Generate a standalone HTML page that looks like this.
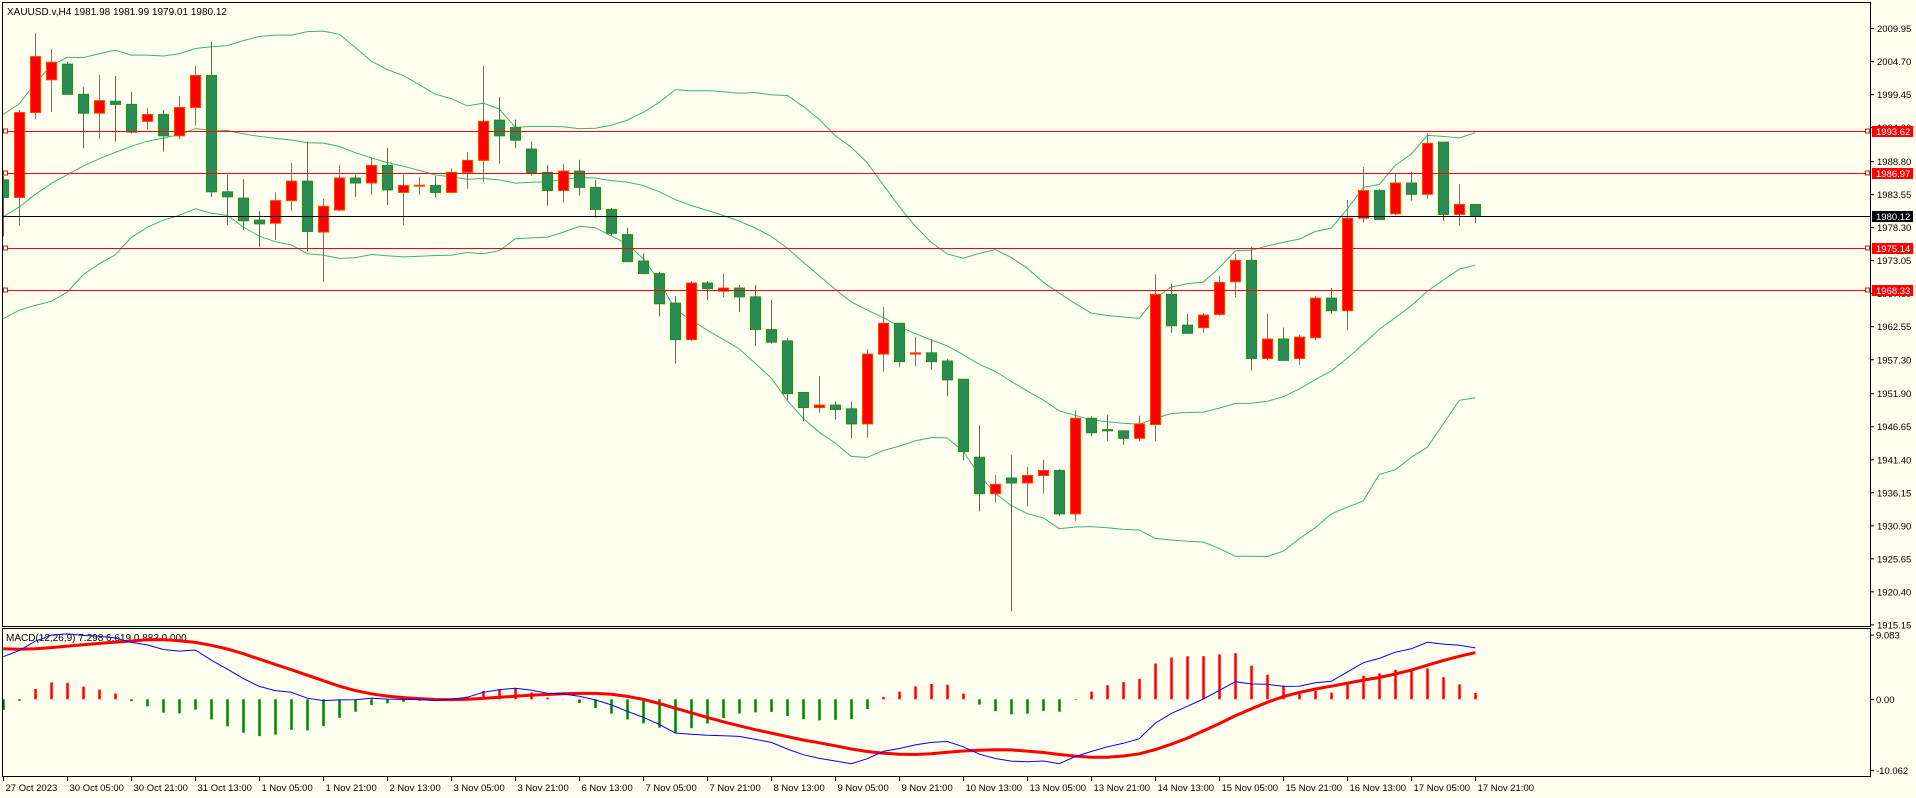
<!DOCTYPE html>
<html><head><meta charset="utf-8">
<style>
html,body{margin:0;padding:0;background:#FFFFF0;}
svg{display:block;font-family:"Liberation Sans",sans-serif;}
</style></head>
<body>
<svg id="chart" width="1916" height="798" viewBox="0 0 1916 798" xmlns="http://www.w3.org/2000/svg">
  <rect x="0" y="0" width="1916" height="798" fill="#FFFFF0"/>
  <defs>
    <clipPath id="mainClip"><rect x="3" y="3" width="1867" height="623"/></clipPath>
    <clipPath id="macdClip"><rect x="3" y="629" width="1867" height="147"/></clipPath>
  </defs>
  <g id="mainGrid"></g>
  <g id="macdGrid"></g>
  <rect x="2.5" y="2.5" width="1868" height="624" fill="none" stroke="#000" stroke-width="1"/>
  <rect x="2.5" y="628.5" width="1868" height="148" fill="none" stroke="#000" stroke-width="1"/>
  <text x="7" y="15" font-size="10" fill="#000">XAUUSD.v,H4  1981.98 1981.99 1979.01 1980.12</text>
  <text x="6" y="641" font-size="10" fill="#000">MACD(12,26,9) 7.298 6.619 0.882 0.000</text>
</svg>
<script>
// ---- data ----
const opens  = [1985.9,1983.1,1996.6,2001.8,2004.3,1999.5,1996.5,1998.4,1997.9,1995.2,1996.3,1992.9,1997.4,2002.5,1984.0,1983.0,1979.5,1979.0,1982.6,1985.7,1977.6,1981.1,1986.2,1985.4,1988.2,1983.9,1985.0,1985.0,1983.9,1987.1,1989.0,1995.4,1994.2,1990.8,1987.1,1984.2,1987.3,1984.7,1981.2,1977.2,1973.0,1971.0,1966.3,1960.5,1969.5,1968.2,1968.7,1967.3,1962.1,1960.3,1952.1,1949.7,1950.1,1949.5,1947.1,1958.2,1963.1,1958.2,1958.4,1957.1,1954.2,1941.8,1936.0,1938.5,1937.7,1938.9,1939.7,1932.8,1948.0,1946.2,1946.0,1944.8,1947.0,1967.7,1962.8,1962.4,1964.5,1969.7,1973.1,1957.5,1960.6,1957.5,1960.8,1967.1,1965.1,1979.8,1984.2,1980.5,1985.4,1983.6,1991.9,1980.4,1981.98];
const highs  = [1986.5,1997.0,2009.2,2006.7,2004.7,2000.6,2002.6,2002.4,1999.9,1997.3,1997.0,1999.2,2004.0,2007.9,1986.7,1986.0,1980.9,1983.9,1988.6,1992.0,1982.9,1988.3,1986.7,1989.5,1991.0,1986.7,1986.4,1986.5,1987.7,1990.3,2004.0,1999.1,1995.5,1992.0,1988.3,1988.4,1989.1,1985.9,1981.4,1978.3,1974.2,1971.3,1967.4,1969.8,1969.8,1971.0,1969.2,1969.2,1966.8,1960.7,1952.1,1954.7,1950.6,1950.6,1959.0,1965.7,1963.1,1960.9,1960.6,1957.4,1954.2,1946.9,1939.0,1942.1,1940.2,1941.4,1939.9,1949.3,1948.3,1948.5,1946.1,1948.4,1970.9,1969.4,1964.6,1964.7,1970.6,1974.1,1975.2,1964.6,1962.4,1961.3,1967.4,1968.7,1982.7,1987.9,1984.4,1986.8,1987.2,1993.3,1991.9,1985.2,1981.99];
const lows   = [1976.9,1978.6,1995.6,1996.7,1999.4,1990.9,1992.4,1992.0,1993.3,1993.9,1990.4,1992.4,1994.5,1983.2,1978.7,1977.9,1975.2,1976.3,1981.0,1974.5,1969.7,1980.9,1983.2,1983.5,1981.9,1978.7,1983.5,1983.1,1983.8,1984.5,1985.6,1988.5,1991.0,1986.6,1981.8,1982.3,1983.4,1979.9,1977.1,1972.8,1970.9,1964.2,1956.7,1960.3,1966.8,1967.3,1964.9,1959.5,1959.9,1950.9,1947.5,1948.9,1947.8,1944.8,1944.9,1955.4,1956.2,1956.3,1955.7,1951.5,1941.3,1933.2,1934.6,1917.3,1934.0,1936.0,1932.5,1931.7,1945.2,1944.4,1943.8,1944.4,1944.4,1961.6,1961.5,1961.6,1964.3,1967.2,1955.6,1957.2,1957.2,1956.5,1960.4,1964.6,1962.0,1979.1,1979.6,1980.3,1982.6,1982.9,1979.4,1978.6,1979.01];
const closes = [1983.1,1996.6,2005.5,2004.6,1999.5,1996.5,1998.5,1997.9,1993.5,1996.3,1992.9,1997.4,2002.5,1984.0,1983.2,1979.4,1978.9,1982.6,1985.7,1977.7,1981.7,1986.2,1985.4,1988.2,1984.3,1985.0,1985.05,1983.9,1987.1,1989.0,1995.2,1992.9,1992.2,1987.0,1984.2,1987.3,1984.7,1981.2,1977.4,1972.9,1971.0,1966.2,1960.5,1969.5,1968.6,1968.7,1967.3,1962.1,1960.1,1951.9,1949.7,1950.1,1949.4,1947.1,1958.2,1963.1,1957.0,1958.4,1957.0,1954.1,1942.7,1936.0,1937.5,1937.7,1938.9,1939.7,1932.8,1948.0,1945.7,1946.0,1944.8,1947.1,1967.7,1962.7,1961.5,1964.4,1969.6,1973.1,1957.5,1960.6,1957.2,1960.9,1967.1,1965.1,1979.8,1984.2,1979.6,1985.4,1983.6,1991.7,1980.4,1982.0,1980.12];
// closes before the first visible bar (estimated) for the 20-period bands
const priorCloses = [1966,1965,1970,1972,1969,1975,1978,1974,1980,1983,1986,1984,1988,1985,1990,1987,1989,1991,1986];
// MACD seeds
const emaSeeds = [1979.5, 1973.3];
const priorMacd = [7.6,7.6,7.5,7.4,7.3,7.2,7.0,6.7];
const priceTicks = ["2009.95","2004.70","1999.45","1994.20","1988.80","1983.55","1978.30","1973.05","1967.80","1962.55","1957.30","1951.90","1946.65","1941.40","1936.15","1930.90","1925.65","1920.40","1915.15"];
const levelLines = [1993.62, 1986.97, 1975.14, 1968.33];
const bidPrice = 1980.12;
const macdTicks = ["9.083","0.00","-10.062"];
const timeLabels = ["27 Oct 2023","30 Oct 05:00","30 Oct 21:00","31 Oct 13:00","1 Nov 05:00","1 Nov 21:00","2 Nov 13:00","3 Nov 05:00","3 Nov 21:00","6 Nov 13:00","7 Nov 05:00","7 Nov 21:00","8 Nov 13:00","9 Nov 05:00","9 Nov 21:00","10 Nov 13:00","13 Nov 05:00","13 Nov 21:00","14 Nov 13:00","15 Nov 05:00","15 Nov 21:00","16 Nov 13:00","17 Nov 05:00","17 Nov 21:00"];

// ---- axes ----
const NS = "http://www.w3.org/2000/svg";
const svg = document.getElementById('chart');
function X(i){ return 3.3 + 16*i; }
function Y(p){ return 131.3 + (1993.62 - p)*6.29; }
function MY(m){ return 699.3 - m*7.07; }
function mk(tag, attrs, parent){
  const e = document.createElementNS(NS, tag);
  for (const k in attrs) e.setAttribute(k, attrs[k]);
  (parent||svg).appendChild(e);
  return e;
}

// price axis ticks
priceTicks.forEach(function(t){
  const y = Y(parseFloat(t));
  const tk = mk('line',{x1:1871,x2:1874,y1:y,y2:y,stroke:'#000'});
  
  
  const tx = mk('text',{x:1877,y:y+3.5,'font-size':'9.5',fill:'#000'});
  tx.textContent = t;
  
  
});

// main plot group
const g = mk('g',{'clip-path':'url(#mainClip)'});



// Bollinger bands
const all = priorCloses.concat(closes);
const up=[], mid=[], lo=[];
for (let i=0;i<closes.length;i++){
  const w = all.slice(i, i+20);
  const m = w.reduce((a,b)=>a+b,0)/20;
  const sd = Math.sqrt(w.reduce((a,b)=>a+(b-m)*(b-m),0)/20);
  mid.push(m); up.push(m+2*sd); lo.push(m-2*sd);
}
[['bollinger-upper',up],['bollinger-middle',mid],['bollinger-lower',lo]].forEach(function(b){
  const pts = b[1].map((v,i)=>X(i).toFixed(1)+','+Y(v).toFixed(1)).join(' ');
  const pl = mk('polyline',{points:pts,fill:'none',stroke:'#3CB371','stroke-width':1},g);
  
  
});

// level lines
levelLines.forEach(function(p){
  const y = Math.round(Y(p))+0.5;
  const ln = mk('line',{x1:3,x2:1870,y1:y,y2:y,stroke:'#FF0000','stroke-width':1});
  
  
  const s1 = mk('rect',{x:3.5,y:y-2.5,width:4,height:4,fill:'#FFFFF0',stroke:'#FF0000'});
  
  
  const s2 = mk('rect',{x:1865.5,y:y-2.5,width:4,height:4,fill:'#FFFFF0',stroke:'#FF0000'});
  
  
  const bx = mk('rect',{x:1872,y:y-5.5,width:41,height:11,fill:'#FF0000'});
  
  
  const t = mk('text',{x:1876,y:y+3.5,'font-size':'9.5',fill:'#fff'});
  t.textContent = p.toFixed(2);
  
  
});

// candles
for (let i=0;i<closes.length;i++){
  const o=opens[i], c=closes[i], h=highs[i], l=lows[i];
  const bull = c>=o;
  const x = Math.round(X(i));
  const wick = bull ? '#FF4500' : '#228B22';
  const wl = mk('line',{x1:x+0.5,x2:x+0.5,y1:Y(h),y2:Y(l),stroke:wick,'stroke-width':1},g);
  
  
  const top = Y(Math.max(o,c)), bot = Y(Math.min(o,c));
  const r = mk('rect',{x:x-4.5,y:top,width:10,height:Math.max(bot-top,1),fill:bull?'#FF0000':'#2E8B57',stroke:wick,'stroke-width':1},g);
  
  
}

// bid line
const by = Math.round(Y(bidPrice))+0.5;
const bl = mk('line',{x1:3,x2:1870,y1:by,y2:by,stroke:'#000','stroke-width':1});


const bb = mk('rect',{x:1872,y:by-5.5,width:41,height:11,fill:'#000'});


const bt = mk('text',{x:1876,y:by+3.5,'font-size':'9.5',fill:'#fff'});
bt.textContent = bidPrice.toFixed(2);



// MACD
let e12 = emaSeeds[0], e26 = emaSeeds[1];
const macd = [];
closes.forEach(function(c){
  e12 += (c-e12)*2/13; e26 += (c-e26)*2/27;
  macd.push(e12-e26);
});
const mAll = priorMacd.concat(macd);
const signal = macd.map((v,i)=>mAll.slice(i,i+9).reduce((a,b)=>a+b,0)/9);
const hist = macd.map((v,i)=>1.35*(v-signal[i]));

const mg = mk('g',{'clip-path':'url(#macdClip)'});


hist.forEach(function(v,i){
  const x = Math.round(X(i))+0.5;
  const hb = mk('line',{x1:x,x2:x,y1:MY(0),y2:MY(v),stroke:v>=0?'#FF0000':'#008000','stroke-width':2.5},mg);
  
  
});
const sigPl = mk('polyline',{points:signal.map((v,i)=>X(i).toFixed(1)+','+MY(v).toFixed(1)).join(' '),fill:'none',stroke:'#FF0000','stroke-width':3},mg);


const macdPl = mk('polyline',{points:macd.map((v,i)=>X(i).toFixed(1)+','+MY(v).toFixed(1)).join(' '),fill:'none',stroke:'#0000FF','stroke-width':1},mg);



macdTicks.forEach(function(t){
  const y = MY(parseFloat(t));
  const tk = mk('line',{x1:1871,x2:1874,y1:y,y2:y,stroke:'#000'});
  
  
  const tx = mk('text',{x:1876,y:y+3.5,'font-size':'9.5',fill:'#000'});
  tx.textContent = t;
  
  
});

// time axis
timeLabels.forEach(function(t,k){
  const x = Math.round(X(k*4))+0.5;
  const tk = mk('line',{x1:x,x2:x,y1:777,y2:781,stroke:'#000'});
  
  
  const tx = mk('text',{x:x+2,y:791,'font-size':'9.5',fill:'#000'});
  tx.textContent = t;
  
  
});
</script>
</body></html>
